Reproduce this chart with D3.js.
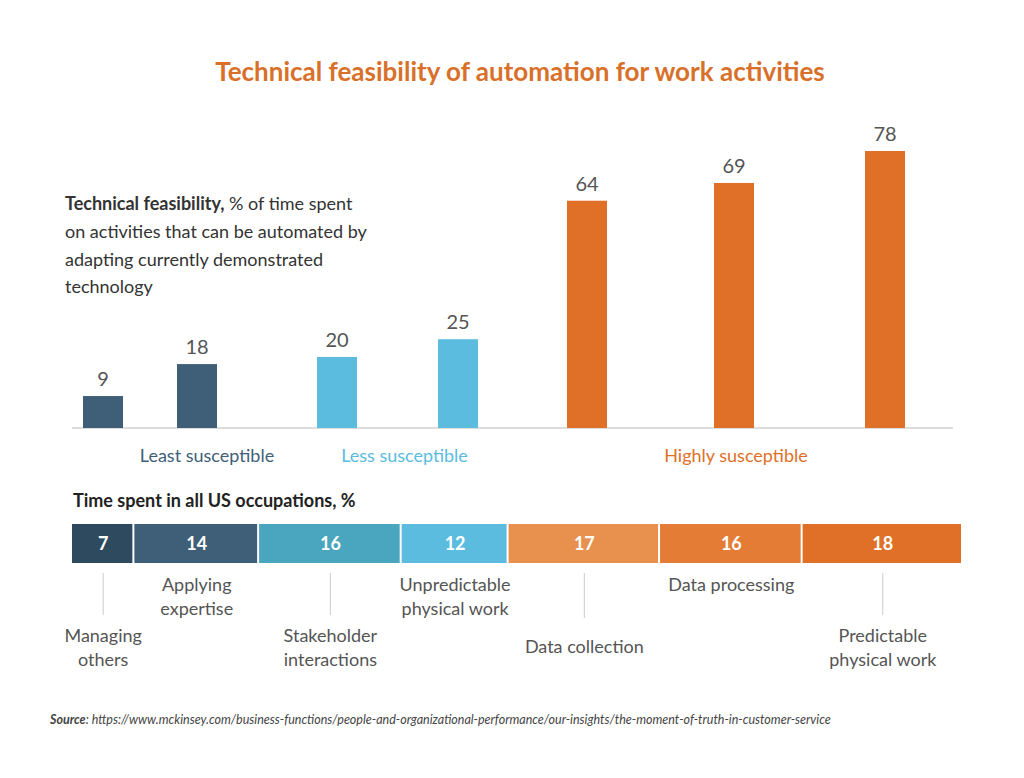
<!DOCTYPE html>
<html><head><meta charset="utf-8">
<script src="https://cdn.jsdelivr.net/npm/d3@7"></script>
<style>body{margin:0;background:#fff;font-family:Lato,"Open Sans",sans-serif;}</style>
</head><body><svg id="chart"></svg>
<script>
var activities = ["Managing others","Applying expertise","Stakeholder interactions","Unpredictable physical work","Data collection","Data processing","Predictable physical work"];
var feasibility = [9, 18, 20, 25, 64, 69, 78];
var timeSpent = [7, 14, 16, 12, 17, 16, 18];
var barColors = ["#3F5E78","#3F5E78","#5BBCE0","#5BBCE0","#E07027","#E07027","#E07027"];
var stackColors = ["#2D4A5F","#3F5E78","#4AA5BE","#5BBCE0","#E8914F","#E47C36","#E07027"];
var groups = [{name:"Least susceptible", from:0, to:1, color:"#3F5E78"},
              {name:"Less susceptible", from:2, to:3, color:"#5BBCE0"},
              {name:"Highly susceptible", from:4, to:6, color:"#E07027"}];
var barCenters = [103, 197, 337, 458, 587, 734, 885]; // bar columns don't line up evenly in the original

var W = 1024, H = 778;
var svg = d3.select("#chart").attr("width", W).attr("height", H);

svg.append("text").attr("x", 520).attr("y", 81).attr("text-anchor","middle")
	.attr("fill","#D9702A").style("font-size","26px").style("font-weight","bold")
	.text("Technical feasibility of automation for work activities");

// subtitle
var sub = svg.append("text").attr("x", 65).attr("y", 210).attr("fill","#333").style("font-size","18px");
sub.append("tspan").style("font-weight","bold").text("Technical feasibility,");
sub.append("tspan").text(" % of time spent");
["on activities that can be automated by","adapting currently demonstrated","technology"].forEach(function(t, i){
	svg.append("text").attr("x",65).attr("y",238 + i*27.5).attr("fill","#333").style("font-size","18px").text(t);
});

// bars
var base = 428;
var y = d3.scaleLinear().domain([0, 78]).range([base, 151]);
var bw = 40;
svg.append("line").attr("x1",72).attr("x2",953).attr("y1",base).attr("y2",base).attr("stroke","#bbb");
svg.selectAll("rect.bar").data(feasibility).enter().append("rect")
	.attr("x", function(d,i){return barCenters[i]-bw/2;})
	.attr("y", function(d){return y(d);})
	.attr("width", bw).attr("height", function(d){return base - y(d);})
	.attr("fill", function(d,i){return barColors[i];});
svg.selectAll("text.val").data(feasibility).enter().append("text")
	.attr("x", function(d,i){return barCenters[i];})
	.attr("y", function(d){return y(d)-10;})
	.attr("text-anchor","middle").attr("fill","#555").style("font-size","20px")
	.text(function(d){return d;});
svg.selectAll("text.grp").data(groups).enter().append("text")
	.attr("x", function(g){return (barCenters[g.from]+barCenters[g.to])/2 + (g.from==0?57:(g.from==2?7:0));})
	.attr("y", 462).attr("text-anchor","middle").style("font-size","18px")
	.attr("fill", function(g){return g.color;}).text(function(g){return g.name;});

// time spent stacked bar
svg.append("text").attr("x",73).attr("y",507).attr("fill","#222").style("font-size","18px").style("font-weight","bold")
	.text("Time spent in all US occupations, %");
var x = d3.scaleLinear().domain([0, 100]).range([72, 963]);
var cum = [];
timeSpent.reduce(function(a, v){cum.push(a); return a + v;}, 0);
var sy = 524, sh = 39;
svg.selectAll("rect.seg").data(timeSpent).enter().append("rect")
	.attr("x", function(d,i){return x(cum[i]);})
	.attr("y", sy).attr("width", function(d){return x(d)-x(0)-2;}).attr("height", sh)
	.attr("fill", function(d,i){return stackColors[i];});
svg.selectAll("text.seg").data(timeSpent).enter().append("text")
	.attr("x", function(d,i){return x(cum[i]+d/2);})
	.attr("y", sy+26).attr("text-anchor","middle").attr("fill","#fff")
	.style("font-size","18px").style("font-weight","bold").text(function(d){return d;});

// activity labels, alternating below / above
activities.forEach(function(a, i){
	var cx = x(cum[i] + timeSpent[i]/2);
	var below = i % 2 == 0;
	var lines = a == "Data collection" ? [a] : (a == "Data processing" ? [a] :
		a == "Unpredictable physical work" ? ["Unpredictable","physical work"] :
		a == "Predictable physical work" ? ["Predictable","physical work"] : a.split(" "));
	var y0 = below ? (lines.length == 1 ? 653 : 642) : 591;
	if (below) {
		svg.append("line").attr("x1",cx).attr("x2",cx).attr("y1",573).attr("y2",lines.length==1?618:615)
			.attr("stroke","#ccc");
	}
	lines.forEach(function(t, k){
		svg.append("text").attr("x",cx).attr("y",y0 + k*24).attr("text-anchor","middle")
			.attr("fill","#555").style("font-size","18px").text(t);
	});
});

var src = svg.append("text").attr("x",50).attr("y",724).attr("fill","#444").style("font-size","12.5px").style("font-style","italic");
src.append("tspan").style("font-weight","bold").text("Source");
src.append("tspan").text(": https://www.mckinsey.com/business-functions/people-and-organizational-performance/our-insights/the-moment-of-truth-in-customer-service");
</script></body></html>
